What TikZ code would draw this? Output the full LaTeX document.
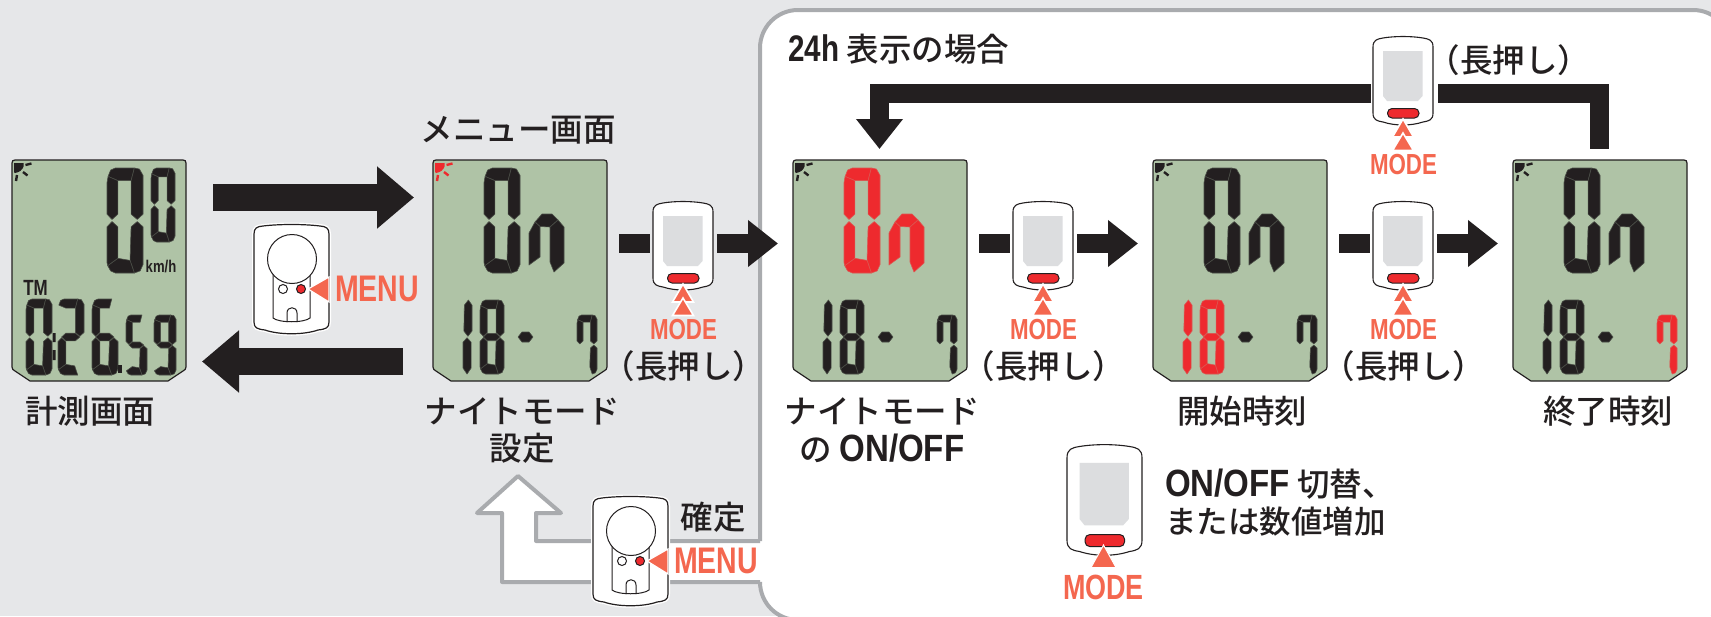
\documentclass[tikz,border=0pt]{standalone}
\usepackage{fontspec}
\usetikzlibrary{arrows.meta}
\setmainfont{Noto Sans CJK JP Medium}
\newfontfamily\condb[FakeStretch=0.77]{Liberation Sans}
\newfontfamily\condc[FakeStretch=0.8]{Liberation Sans}
\newfontfamily\condd[FakeStretch=0.87]{Liberation Sans}
\definecolor{bg}{HTML}{E6E7E9}
\definecolor{ink}{HTML}{231F20}
\definecolor{lcdg}{HTML}{AFC3A6}
\definecolor{coral}{HTML}{F4674F}
\definecolor{redon}{HTML}{EE2A2E}
\definecolor{edge}{HTML}{A9ABAE}
\definecolor{scr}{HTML}{DCDDDF}
\tikzset{
  seg/.style={draw=#1!72!lcdg,fill=#1,line width=0.6pt,line join=round},
  lab/.style={inner sep=0pt,text=ink,font=\fontsize{32.5}{36}\selectfont},
  btnlab/.style={inner sep=0pt,text=coral,font=\condb\bfseries\fontsize{29}{30}\selectfont},
  menulab/.style={inner sep=0pt,text=coral,font=\condb\bfseries\fontsize{37}{38}\selectfont},
  bigarrow/.style={draw=ink,line width=27pt,-{Triangle[length=37pt,width=60pt]}},
  smallarrow/.style={draw=ink,line width=19pt,-{Triangle[length=30pt,width=45pt]}},
  stub/.style={draw=ink,line width=19pt},
  panelline/.style={draw=edge,line width=4pt,line join=round},
  tri/.style={fill=coral,draw=white,line width=1.6pt,line join=miter},
}
% seven-segment pieces in a unit box
\newcommand\sega[1]{\path[seg=#1] (0.03,0.08)--(0.1,0.02)--(0.23,0)--(0.76,0)--(0.67,0.12)--(0.30,0.12)--cycle;}
\newcommand\segf[1]{\path[seg=#1] (0.03,0.08)--(0.30,0.12)--(0.30,0.44)--(0.14,0.49)--(0,0.44)--(0,0.14)--cycle;}
\newcommand\segb[1]{\path[seg=#1] (0.76,0)--(0.9,0.01)--(1,0.07)--(1,0.44)--(0.84,0.49)--(0.67,0.44)--(0.67,0.12)--cycle;}
\newcommand\sege[1]{\path[seg=#1] (0.14,0.51)--(0.30,0.56)--(0.30,0.86)--(0.02,0.93)--(0,0.9)--(0,0.56)--cycle;}
\newcommand\segc[1]{\path[seg=#1] (0.84,0.51)--(1,0.56)--(1,0.92)--(0.92,0.98)--(0.76,1)--(0.64,0.88)--(0.67,0.56)--cycle;}
\newcommand\segd[1]{\path[seg=#1] (0.02,0.93)--(0.30,0.86)--(0.64,0.88)--(0.76,1)--(0.23,1)--(0.1,0.98)--cycle;}
\newcommand\segg[1]{\path[seg=#1] (0.14,0.5)--(0.30,0.45)--(0.67,0.45)--(0.84,0.5)--(0.67,0.55)--(0.30,0.55)--cycle;}
\newcommand\dig[6]{\begin{scope}[shift={(#1,#2)},x=#3pt,y=-#4pt]
  \foreach \s in {#6}{\csname seg\s\endcsname{#5}}
\end{scope}}
% the digit one: two spindles
\newcommand\onedig[5]{\begin{scope}[shift={(#1,#2)},x=#3pt,y=-#4pt]
  \path[seg=#5] (0.6,0)--(1,0.07)--(1,0.42)--(0.55,0.49)--(0.1,0.42)--(0.15,0.07)--cycle;
  \path[seg=#5] (0.45,0.51)--(0.9,0.57)--(0.9,0.92)--(0.45,1)--(0,0.92)--(0,0.57)--cycle;
\end{scope}}
\newcommand\lcdbody[3]{\begin{scope}[shift={(#1,#2)}]
  \path[draw=ink,line width=1.2pt,fill=lcdg,line join=round]
    (0,3) .. controls (0,1) and (1,0) .. (3,0) -- (171,0) .. controls (173,0) and (174,1) .. (174,3)
    -- (174,207) .. controls (174,209) and (173,210) .. (171,211) -- (156,221) -- (18,221) -- (3,211)
    .. controls (1,210) and (0,209) .. (0,207) -- cycle;
  \fill[#3] (2,3) -- (11.5,3) -- (11.5,6.5) .. controls (10.5,10) and (7,12.5) .. (3,13) -- (2,12) -- cycle;
  \path[draw=#3,line width=2.4pt] (13.5,5) -- (19.5,3.5) (11,12) -- (15.5,15.5) (5,15) -- (4,21);
\end{scope}}
% the On / 18-7 screen
\newcommand\lcdon[6]{\lcdbody{#1}{#2}{#6}
\begin{scope}[shift={(#1,#2)}]
  \dig{51}{8}{36}{105}{#3}{a,b,c,d,e,f}
  \path[seg=#3] (102,62)--(109,54)--(119,54)--(125,60)--(117,67)--(107,66.5)--cycle;
  \path[seg=#3] (96,73)--(102,62)--(107,66.5)--(107,97)--(96,105)--cycle;
  \path[seg=#3] (125,60)--(131,67)--(131,103)--(121,112)--(117,102)--(117,67)--cycle;
  \onedig{30}{140}{9}{74}{#4}
  \dig{47}{140}{24}{74}{#4}{a,b,c,d,e,f,g}
  \path[seg=ink] (85,177)--(89,172)--(96,172)--(100,177)--(96,182)--(89,182)--cycle;
  \dig{144}{155}{20}{59}{#5}{a,b,f,c}
\end{scope}}
% front of the unit with the MODE button
\newcommand\modedev[3]{\begin{scope}[shift={(#1,#2)},scale=#3]
  \path[draw=ink,line width=1.1pt,fill=white]
    (0,11) .. controls (0,4) and (4,3) .. (10,2) .. controls (22,0) and (38,0) .. (50,2)
    .. controls (56,3) and (60,4) .. (60,11) -- (60,77) .. controls (60,84) and (56,85) .. (50,86)
    .. controls (38,90) and (22,90) .. (10,86) .. controls (4,85) and (0,84) .. (0,77) -- cycle;
  \fill[scr] (10,15) -- (49.5,15) -- (49.5,60) -- (45,65) -- (14,65) -- (10,60) -- cycle;
  \path[draw=ink,line width=1pt,fill=redon,rounded corners=4.5pt] (14.5,72.5) rectangle (46,82);
\end{scope}}
\newcommand\dchev[2]{\begin{scope}[shift={(#1,#2)}]
  \path[tri] (30,83) -- (40.5,101) -- (19.5,101) -- cycle;
  \path[tri] (30,97) -- (40.5,114.5) -- (19.5,114.5) -- cycle;
\end{scope}}
% rear of the unit with the MENU button
\newcommand\reardev[3]{\begin{scope}[shift={(#1,#2)}]
  \def\shapepath{(0,10) .. controls (0,4) and (3,2.5) .. (9,2) .. controls (25,0) and (50,0) .. (66,2) .. controls (72,2.5) and (75,4) .. (75,10)
    -- (75,98) .. controls (75,104) and (72,105) .. (64,106) .. controls (50,111) and (25,111) .. (11,106) .. controls (3,105) and (0,104) .. (0,98) -- cycle}
  \path[draw=white,line width=4pt] \shapepath;
  \path[draw=ink,line width=1.2pt,fill=white] \shapepath;
  \path[draw=ink,line width=1pt] (19,50) -- (19,94) .. controls (25,99) and (50,99) .. (56,94) -- (56,50);
  \path[draw=ink,line width=1pt,fill=white] (38,35) circle[radius=24.5];
  \path[draw=ink,line width=1pt,fill=white] (29,65) circle[radius=4.5];
  \path[draw=ink,line width=1pt,fill=redon] (47,65) circle[radius=4.5];
  \path[draw=ink,line width=1pt] (33,98) -- (33,89) .. controls (33,82) and (43,82) .. (43,89) -- (43,98);
  \path[fill=coral,draw=white,line width=1.2pt] (54,65) -- (75,53) -- (75,78) -- cycle;
  \node[menulab,anchor=center] (#3) at (123,65) {MENU};
\end{scope}}
\begin{document}
\begin{tikzpicture}[x=1pt,y=-1pt]
\path[use as bounding box] (0,0) rectangle (1711,616);
\begin{scope}
\clip (0,0) rectangle (1711,616);
\fill[bg] (0,0) rectangle (1711,616);
% white panel and hollow arrow
\fill[white,rounded corners=38pt] (760,10) rectangle (1731,620);
\fill[white] (518,476) -- (561,513) -- (536,513) -- (536,541) -- (770,541) -- (770,582) -- (502,582) -- (502,513) -- (477,513) -- cycle;
\coordinate (pa) at (760,541);
\coordinate (pb) at (760,582);
\path[panelline] (pa) -- (760,48) arc[start angle=180,end angle=90,radius=38pt] -- (1693,10) arc[start angle=90,end angle=0,radius=38pt];
\path[panelline] (pb) -- (760,582) arc[start angle=180,end angle=270,radius=38pt];
\path[panelline] (pa) -- (536,541) -- (536,513) -- (561,513) -- (518,476) -- (477,513) -- (502,513) -- (502,582) -- (pb);
% screens
\lcdbody{12}{160}{ink}
\dig{107}{168}{36}{105}{ink}{a,b,c,d,e,f}
\dig{151}{168}{24}{74}{ink}{a,b,c,d,e,f}
\dig{26}{299}{26}{76}{ink}{a,b,c,d,e,f}
\fill[ink] (52.5,333) rectangle (55.5,342) (52.5,350) rectangle (55.5,360);
\dig{58}{299}{26}{76}{ink}{a,b,g,e,d}
\dig{92}{299}{26}{76}{ink}{a,f,g,e,d,c}
\fill[ink] (118,365) rectangle (122,373);
\dig{126}{315}{21}{60}{ink}{a,f,g,c,d}
\dig{154}{315}{22}{60}{ink}{a,b,f,g,c,d}
\node[inner sep=0pt,text=ink,font=\condb\bfseries\fontsize{17}{18}\selectfont] (kmh) at (161,267) {km/h};
\node[inner sep=0pt,text=ink,font=\condb\bfseries\fontsize{22}{23}\selectfont] (tm) at (35.5,288) {TM};
\lcdon{433}{160}{ink}{ink}{ink}{redon}
\lcdon{793}{160}{redon}{ink}{ink}{ink}
\lcdon{1153}{160}{ink}{redon}{ink}{ink}
\lcdon{1513}{160}{ink}{ink}{redon}{ink}
% big arrows
\coordinate (r1a) at (213,197.5); \coordinate (r1b) at (414,197.5);
\coordinate (l1a) at (403,361.5); \coordinate (l1b) at (202,361.5);
\path[bigarrow] (r1a) -- (r1b);
\path[bigarrow] (l1a) -- (l1b);
% small arrows with units
\coordinate (s1a) at (619,243.5); \coordinate (s1b) at (650,243.5);
\coordinate (s1c) at (717,243.5); \coordinate (s1d) at (778,243.5);
\coordinate (s2a) at (979,243.5); \coordinate (s2b) at (1010,243.5);
\coordinate (s2c) at (1077,243.5); \coordinate (s2d) at (1138,243.5);
\coordinate (s3a) at (1339,243.5); \coordinate (s3b) at (1370,243.5);
\coordinate (s3c) at (1437,243.5); \coordinate (s3d) at (1498,243.5);
\path[stub] (s1a) -- (s1b); \path[smallarrow] (s1c) -- (s1d);
\path[stub] (s2a) -- (s2b); \path[smallarrow] (s2c) -- (s2d);
\path[stub] (s3a) -- (s3b); \path[smallarrow] (s3c) -- (s3d);
\coordinate (t1) at (1609,149); \coordinate (t2) at (1438,93.5);
\coordinate (t3) at (1371,93.5); \coordinate (t4) at (879.5,149);
\path[stub,line join=miter] (t2) -| (1599.5,149);
\path[smallarrow,line join=miter] (t3) -| (t4);
% units
\modedev{653}{201}{1}
\modedev{1013}{201}{1}
\modedev{1373}{201}{1}
\modedev{1373}{36}{1}
\modedev{1067}{444}{1.25}
\dchev{653}{201}
\dchev{1013}{201}
\dchev{1373}{201}
\dchev{1373}{36}
\path[fill=coral,draw=white,line width=1pt] (1103.5,545) -- (1116,567.5) -- (1091,567.5) -- cycle;
\reardev{254}{224}{menua}
\reardev{593}{496}{menub}
% labels
\node[btnlab] (m1) at (683.5,330) {MODE};
\node[btnlab] (m2) at (1043.5,330) {MODE};
\node[btnlab] (m3) at (1403.5,330) {MODE};
\node[btnlab] (m4) at (1403.5,165) {MODE};
\node[btnlab,font=\condb\bfseries\fontsize{35}{36}\selectfont] (m5) at (1103.5,587) {MODE};
\node[lab] (tmenu) at (518,130) {メニュー画面};
\node[lab] (tmeas) at (90,411) {計測画面};
\node[lab] (tnight1) at (522,411) {ナイトモード};
\node[lab] (tnight2) at (522,448) {設定};
\node[lab] (tl1) at (684,366) {（長押し）};
\node[lab] (tl2) at (1044,366) {（長押し）};
\node[lab] (tl3) at (1404,366) {（長押し）};
\node[lab] (tl4) at (1509,60) {（長押し）};
\node[lab,anchor=west] (t24) at (788,49) {{\condc\bfseries\fontsize{37}{38}\selectfont 24h} 表示の場合};
\node[lab] (tn1) at (882,411) {ナイトモード};
\node[lab] (tn2) at (882,448) {の {\condd\bfseries\fontsize{38}{40}\selectfont ON/OFF}};
\node[lab] (tst) at (1242,411) {開始時刻};
\node[lab] (ten) at (1608,411) {終了時刻};
\node[lab] (tok) at (713,517) {確定};
\node[lab,anchor=west] (tsw) at (1165,484) {{\condd\bfseries\fontsize{38}{40}\selectfont ON/OFF} 切替、};
\node[lab,anchor=west,font=\fontsize{31.5}{36}\selectfont] (tinc) at (1165,522) {または数値増加};
\end{scope}
\end{tikzpicture}
\end{document}
